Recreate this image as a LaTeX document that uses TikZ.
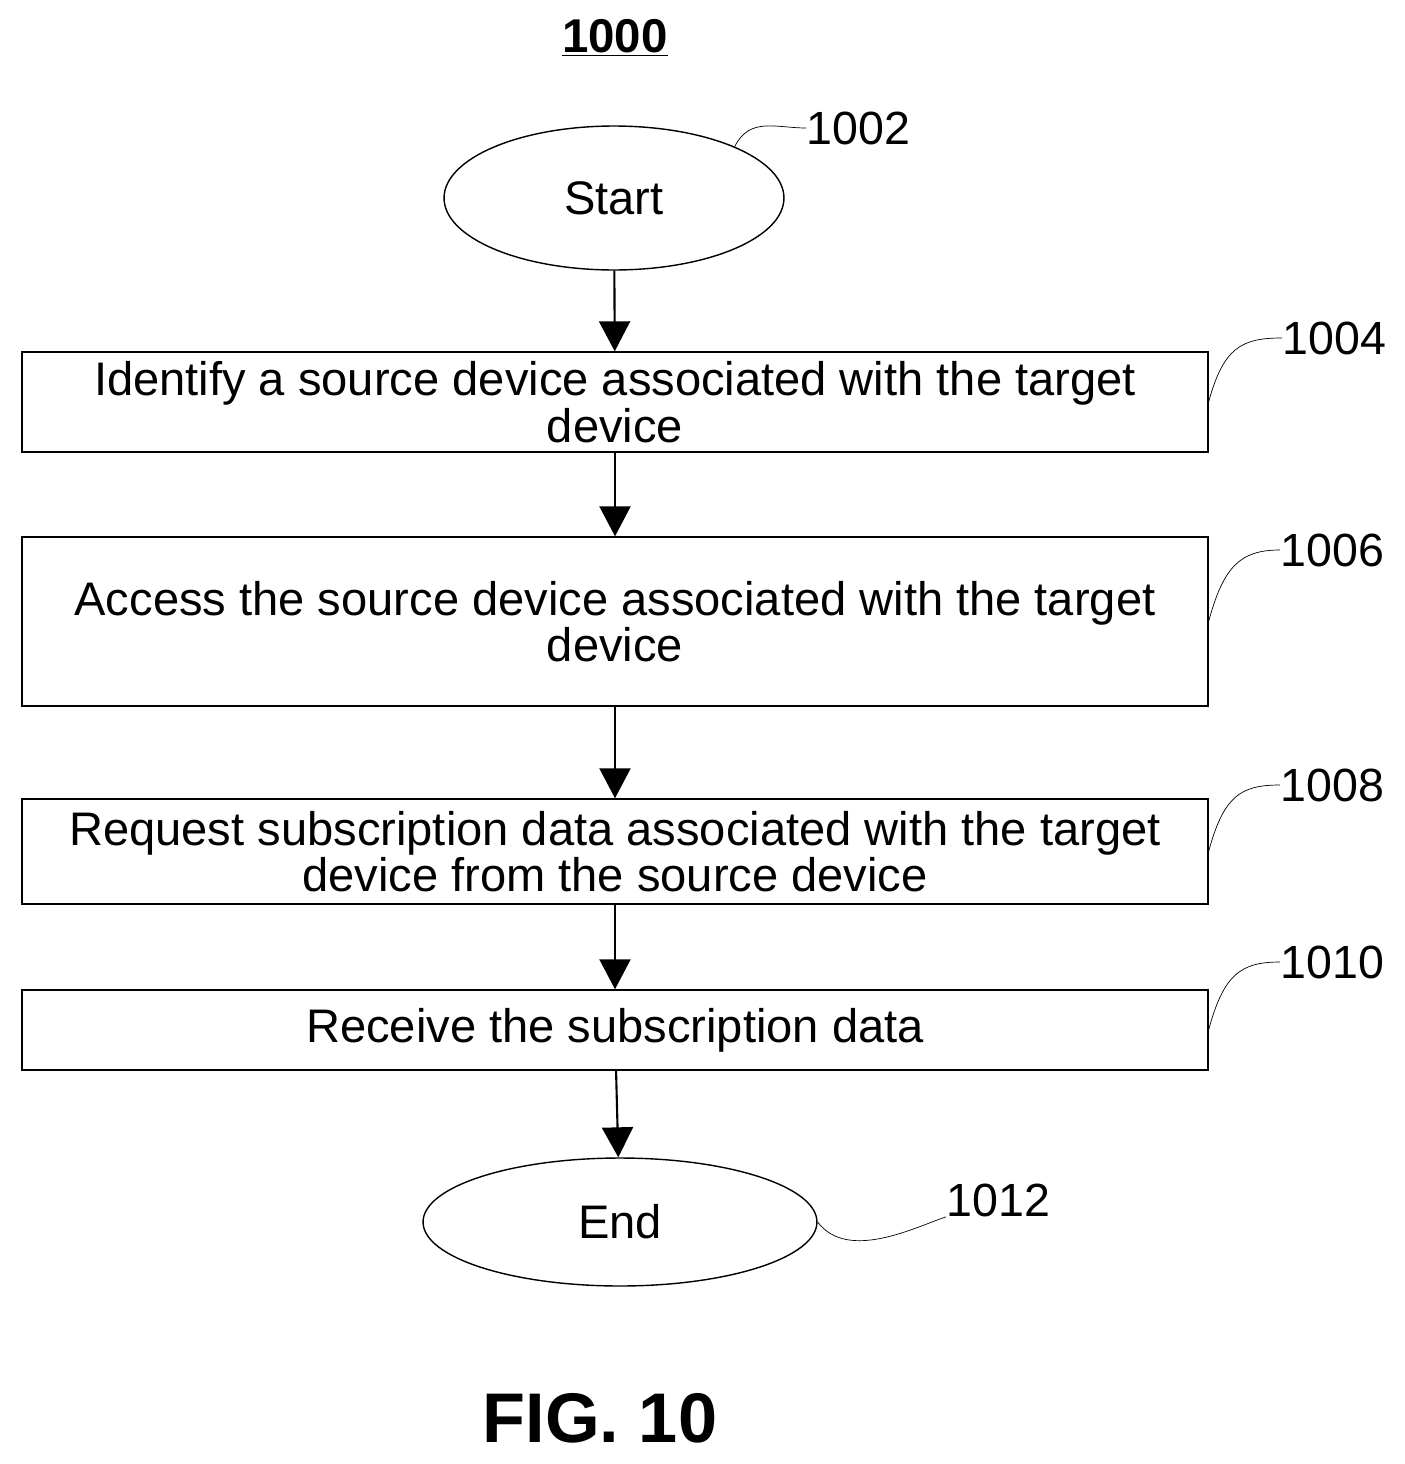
\documentclass[tikz,border=0pt]{standalone}
\usepackage{fontspec}
\setmainfont{Liberation Sans}
\usetikzlibrary{shapes.geometric,arrows.meta}
\tikzset{
  procbox/.style={draw,thick,minimum width=23.72cm,inner sep=0pt,align=center,font=\fontsize{26.8}{26.5}\selectfont},
  term/.style={draw,thick,ellipse,inner sep=0pt,font=\fontsize{26.8}{26.5}\selectfont},
  ref/.style={inner sep=0pt,font=\fontsize{26.5}{28}\selectfont},
  flow/.style={very thick,-{Triangle[length=0.6cm,width=0.62cm]}},
  lead/.style={thin}
}
\begin{document}
\begin{tikzpicture}[x=0.02cm,y=-0.02cm]
  \useasboundingbox (0,0) rectangle (1404,1464);
  % title
  \node[font=\bfseries\fontsize{27}{30}\selectfont] (title) at (615,38) {\underline{1000}};
  % flow
  \node[term,minimum width=6.8cm,minimum height=2.88cm] (start) at (614,198) {Start};
  \node[procbox,minimum height=2.0cm] (b1) at (615,402) {Identify a source device associated with the target\\device};
  \node[procbox,minimum height=3.38cm] (b2) at (615,621.5) {Access the source device associated with the target\\device};
  \node[procbox,minimum height=2.1cm] (b3) at (615,851.5) {Request subscription data associated with the target\\device from the source device};
  \node[procbox,minimum height=1.6cm] (b4) at (615,1030) {Receive the subscription data};
  \node[term,minimum width=7.88cm,minimum height=2.56cm] (end) at (620,1222) {End};
  \draw[flow] (start) -- (b1);
  \draw[flow] (b1) -- (b2);
  \draw[flow] (b2) -- (b3);
  \draw[flow] (b3) -- (b4);
  \draw[flow] (b4) -- (end);
  % reference numerals
  \node[ref,anchor=west] (l1002) at (806,128) {1002};
  \node[ref,anchor=west] (l1004) at (1282,338) {1004};
  \node[ref,anchor=west] (l1006) at (1280,550) {1006};
  \node[ref,anchor=west] (l1008) at (1280,785) {1008};
  \node[ref,anchor=west] (l1010) at (1280,962) {1010};
  \node[ref,anchor=west] (l1012) at (946,1200) {1012};
  \draw[lead] (start.north east) .. controls +(15,-30) and +(-30,0) .. (l1002.west);
  \draw[lead] (b1.east) .. controls +(15,-55) and +(-40,0) .. (l1004.west);
  \draw[lead] (b2.east) .. controls +(15,-55) and +(-40,0) .. (l1006.west);
  \draw[lead] (b3.east) .. controls +(15,-55) and +(-40,0) .. (l1008.west);
  \draw[lead] (b4.east) .. controls +(15,-55) and +(-40,0) .. (l1010.west);
  \draw[lead] (end.east) .. controls +(30,40) and +(-30,10) .. (l1012.south west);
  % caption
  \node[font=\bfseries\fontsize{40}{46}\selectfont] (fig) at (600,1418) {FIG. 10};
\end{tikzpicture}
\end{document}
